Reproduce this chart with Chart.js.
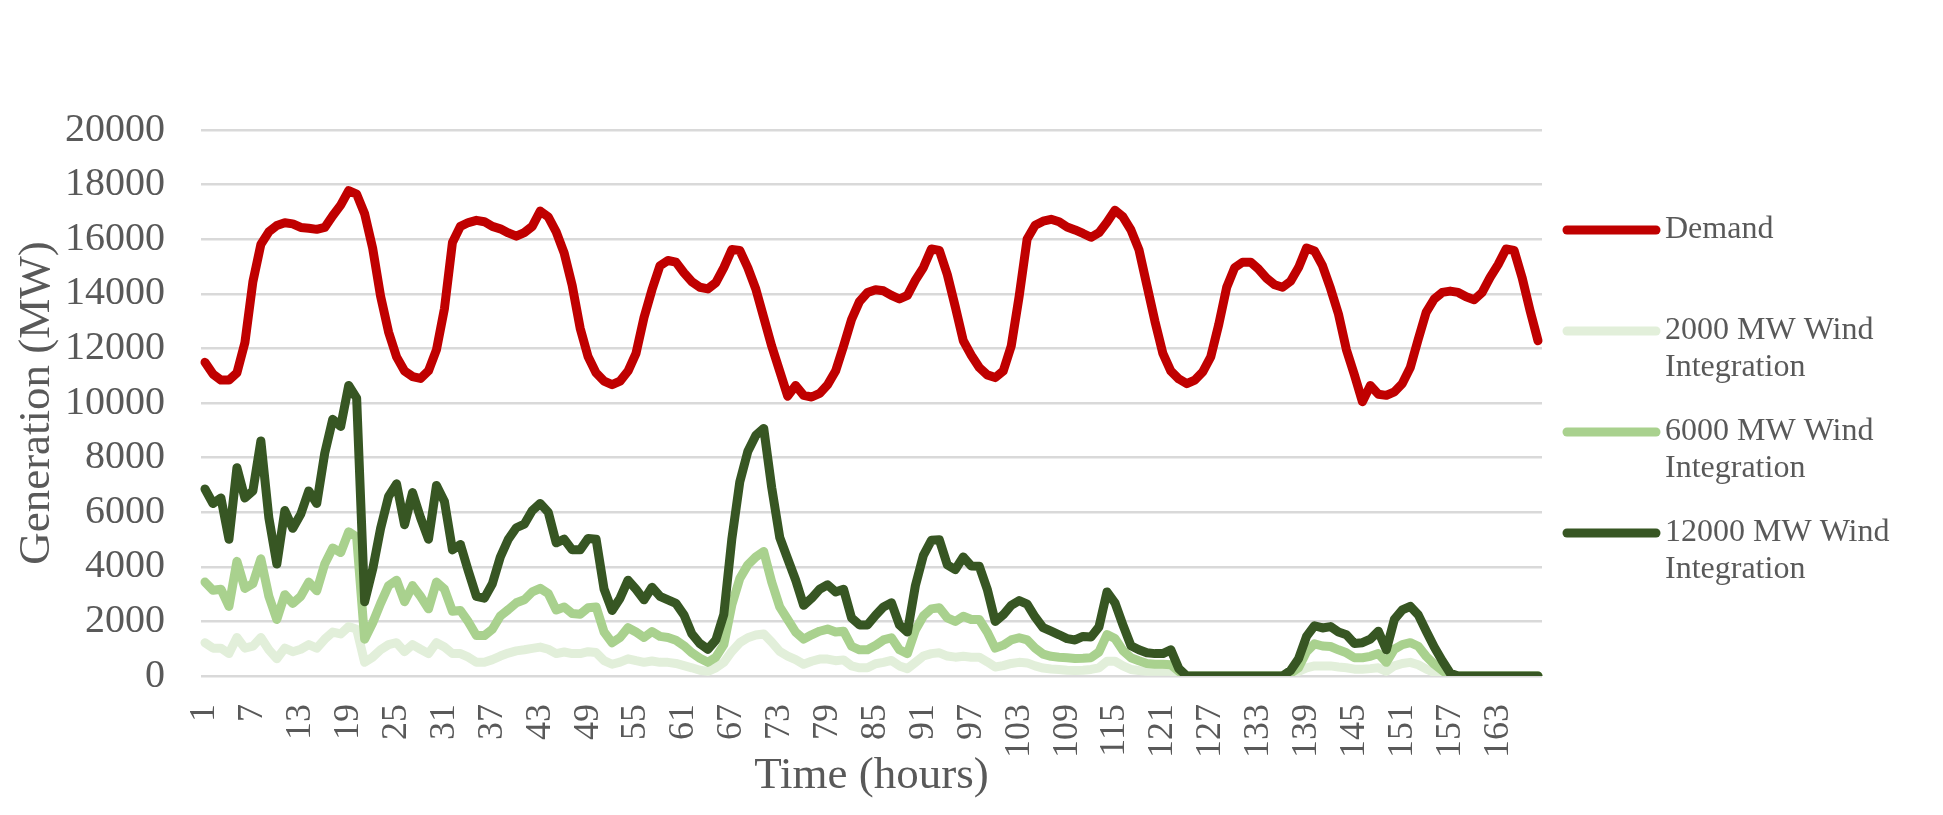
<!DOCTYPE html>
<html>
<head>
<meta charset="utf-8">
<script src="https://cdn.jsdelivr.net/npm/chart.js@4.4.1/dist/chart.umd.min.js"></script>
<style>
    body{margin:0;background:#fff;}
    #wrap{width:1943px;height:815px;}
</style>
</head>
<body>
<div id="wrap"><canvas id="gen-line" width="1943" height="815"></canvas></div>
<script>

// hours 1..168 on the x axis, a label is shown every 6 hours
const hours = Array.from({length: 168}, (_, i) => String(i + 1))

const seriesNames = ['Demand', '2000 MW Wind Integration', '6000 MW Wind Integration', '12000 MW Wind Integration']
const seriesColors = ['#C00000', '#E2EFDA', '#A9D18E', '#375623']

const demand = [
    11490,11060,10840,10840,11100,12210,14440,15810,16270,16500,16600,16560,
    16430,16400,16360,16430,16860,17250,17780,17650,16930,15680,13910,12600,
    11690,11170,10970,10900,11180,11950,13460,15880,16470,16610,16690,16640,
    16470,16380,16230,16110,16240,16470,17030,16820,16270,15490,14310,12740,
    11690,11100,10800,10670,10800,11170,11820,13130,14150,15030,15220,15160,
    14770,14440,14240,14180,14410,14960,15620,15590,14960,14180,13130,12080,
    11170,10250,10640,10280,10220,10350,10670,11170,12080,13060,13720,14050,
    14150,14110,13940,13810,13940,14500,14960,15640,15590,14700,13520,12280,
    11750,11300,11030,10930,11170,12080,13910,16010,16510,16660,16730,16640,
    16450,16340,16210,16070,16240,16620,17060,16820,16340,15620,14310,13000,
    11820,11170,10880,10710,10840,11140,11690,12870,14240,14960,15160,15160,
    14900,14570,14330,14240,14460,14960,15680,15570,15030,14200,13260,11950,
    11030,10050,10640,10320,10280,10410,10710,11300,12340,13330,13810,14050,
    14100,14050,13890,13780,14050,14600,15070,15640,15590,14600,13390,12280
]

const wind2000 = [
    1220,1020,1020,820,1410,1020,1090,1410,960,630,1020,890,
    980,1150,1020,1350,1610,1540,1810,1710,500,690,960,1150,
    1220,890,1150,980,820,1220,1060,820,820,690,500,500,
    600,730,840,920,960,1010,1060,980,820,880,820,820,
    890,860,560,430,510,630,560,500,550,500,500,460,
    380,300,210,170,300,500,900,1220,1400,1500,1540,1240,
    900,730,600,430,540,620,620,560,590,370,300,300,
    450,500,570,370,270,500,730,820,850,730,690,720,
    690,690,520,330,380,460,500,480,370,290,260,240,
    210,200,210,240,300,540,540,370,240,200,170,170,
    170,170,80,0,0,0,0,0,0,0,0,0,
    0,0,0,0,40,170,300,370,370,370,330,300,
    250,250,270,300,170,370,460,500,410,250,130,60,
    0,0,0,0,0,0,0,0,0,0,0,0
]

const wind6000 = [
    3440,3140,3180,2550,4200,3210,3380,4290,2920,2070,2980,2660,
    2920,3440,3120,4100,4690,4520,5280,5090,1350,1940,2660,3310,
    3510,2720,3310,2920,2460,3440,3180,2370,2400,1980,1480,1480,
    1710,2200,2430,2680,2790,3080,3210,3020,2420,2530,2290,2260,
    2500,2530,1610,1220,1410,1770,1610,1410,1630,1450,1410,1310,
    1110,850,650,500,690,1150,2600,3570,4070,4360,4560,3440,
    2530,2070,1610,1350,1510,1640,1720,1610,1640,1090,960,960,
    1120,1320,1400,960,820,1680,2200,2460,2500,2130,2000,2190,
    2070,2070,1610,1020,1130,1320,1400,1320,1020,800,720,690,
    670,640,650,670,880,1520,1370,930,670,560,460,430,
    430,410,170,0,0,0,0,0,0,0,0,0,
    0,0,0,0,100,300,890,1180,1100,1080,960,850,
    670,670,720,820,500,980,1150,1220,1090,720,430,200,
    0,0,0,0,0,0,0,0,0,0,0,0
]

const wind12000 = [
    6850,6320,6520,5010,7630,6520,6780,8610,5800,4100,6060,5410,
    5930,6780,6320,8160,9400,9140,10640,10180,2720,3900,5410,6580,
    7040,5540,6720,5800,5010,6980,6390,4620,4820,3840,2920,2850,
    3380,4360,5010,5430,5560,6060,6320,6000,4880,5010,4620,4620,
    5040,5010,3180,2400,2850,3510,3180,2790,3250,2920,2790,2660,
    2240,1540,1190,980,1320,2260,5010,7110,8220,8810,9070,6900,
    5080,4290,3510,2590,2850,3180,3340,3080,3180,2130,1870,1870,
    2220,2530,2680,1870,1610,3310,4420,4970,4990,4070,3900,4360,
    4030,4020,3180,2000,2240,2590,2760,2630,2160,1770,1640,1510,
    1370,1320,1450,1430,1800,3080,2680,1870,1110,960,850,820,
    820,960,270,0,0,0,0,0,0,0,0,0,
    0,0,0,0,200,630,1450,1840,1760,1810,1610,1510,
    1190,1220,1350,1640,960,2070,2420,2550,2240,1640,1060,560,
    100,0,0,0,0,0,0,0,0,0,0,0
]

const serif = "'Liberation Serif', 'Times New Roman', serif"
const textGrey = '#595959'

// legend on the right, long names wrapped onto two lines like Excel does
const sideLegend = {
    id: 'sideLegend',
    afterDraw(chart){
        const ctx = chart.ctx
        const area = chart.chartArea
        ctx.save()
        ctx.font = `32px ${serif}`
        ctx.textBaseline = 'middle'
        let y = area.top + 100
        chart.data.datasets.forEach((ds) => {
            ctx.strokeStyle = ds.borderColor
            ctx.lineWidth = 9
            ctx.lineCap = 'round'
            ctx.beginPath()
            ctx.moveTo(area.right + 25, y)
            ctx.lineTo(area.right + 114, y)
            ctx.stroke()

            // greedy word wrap
            let lines = []
            let cur = ''
            for(let w of ds.label.split(' ')){
                let test = cur ? cur + ' ' + w : w
                if(ctx.measureText(test).width > 250 && cur){
                    lines.push(cur)
                    cur = w
                } else {
                    cur = test
                }
            }
            lines.push(cur)

            ctx.fillStyle = textGrey
            lines.forEach((l, i) => ctx.fillText(l, area.right + 123, y + i * 37))
            y += 101
        })
        ctx.restore()
    }
}

const series = [demand, wind2000, wind6000, wind12000]

const genLine = new Chart(
    document.getElementById('gen-line').getContext('2d'),
    {
        type: 'line',
        data: {
            labels: hours,
            datasets: series.map((d, i) => ({
                label: seriesNames[i],
                data: d,
                borderColor: seriesColors[i],
                backgroundColor: seriesColors[i],
                borderWidth: 9,
                pointRadius: 0,
                tension: 0,
                borderJoinStyle: 'round',
                borderCapStyle: 'round',
                order: i == 0 ? 0 : 4 - i
            }))
        },
        options: {
            responsive: false,
            maintainAspectRatio: false,
            animation: false,
            devicePixelRatio: 1,
            layout: {
                padding: {top: 130, right: 401, bottom: 0, left: 0}
            },
            scales: {
                y: {
                    min: 0,
                    max: 20000,
                    border: {display: false},
                    grid: {color: '#D9D9D9', lineWidth: 2.5, drawTicks: false},
                    ticks: {
                        stepSize: 2000,
                        padding: 36,
                        color: textGrey,
                        font: {family: serif, size: 40},
                        callback: (v) => String(v)
                    },
                    title: {
                        display: true,
                        text: 'Generation (MW)',
                        color: textGrey,
                        font: {family: serif, size: 45},
                        padding: {top: 10, bottom: 0}
                    },
                    afterFit(scale){ scale.width = 201 }
                },
                x: {
                    offset: true,
                    border: {display: false},
                    grid: {display: false, drawTicks: false},
                    ticks: {
                        autoSkip: false,
                        minRotation: 90,
                        maxRotation: 90,
                        padding: 28,
                        color: textGrey,
                        font: {family: serif, size: 36},
                        callback: (v, i) => (i % 6 == 0) ? hours[i] : ''
                    },
                    title: {
                        display: true,
                        text: 'Time (hours)',
                        color: textGrey,
                        font: {family: serif, size: 45},
                        padding: {top: 0, bottom: 12}
                    },
                    afterFit(scale){ scale.height = 139 }
                }
            },
            plugins: {
                legend: {display: false},
                tooltip: {enabled: false}
            }
        },
        plugins: [sideLegend]
    }
)

genLine.update()
</script>
</body>
</html>
